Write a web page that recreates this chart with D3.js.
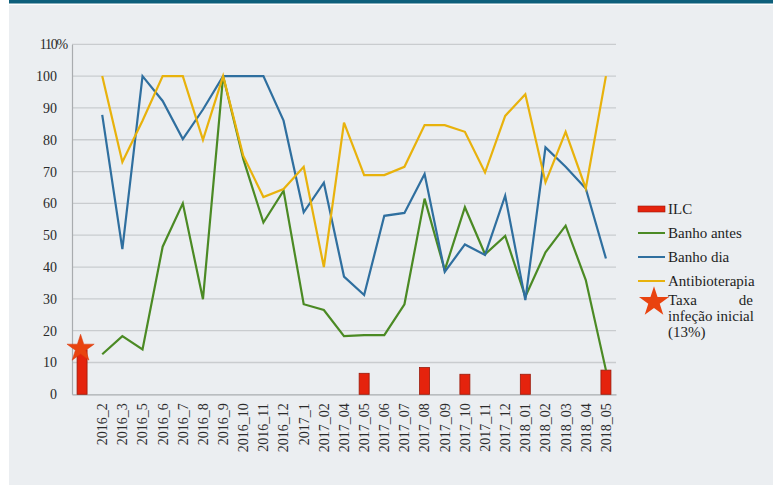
<!DOCTYPE html>
<html>
<head>
<meta charset="utf-8">
<script src="https://cdn.jsdelivr.net/npm/d3@7"></script>
<style>
  body { margin: 0; background: #fff; }
  svg { display: block; }
</style>
</head>
<body>
<svg id="chart" width="773" height="485"></svg>
<script>
// months (first slot holds the initial infection rate, no label)
var months = ["", "2016_2", "2016_3", "2016_5", "2016_6", "2016_7", "2016_8", "2016_9", "2016_10",
  "2016_11", "2016_12", "2017_1", "2017_02", "2017_04", "2017_05", "2017_06", "2017_07", "2017_08",
  "2017_09", "2017_10", "2017_11", "2017_12", "2018_01", "2018_02", "2018_03", "2018_04", "2018_05"];

var ilc = [14, 0, 0, 0, 0, 0, 0, 0, 0, 0, 0, 0, 0, 0, 6.6, 0, 0, 8.4, 0, 6.3, 0, 0, 6.3, 0, 0, 0, 7.6];
var banhoAntes = [null, 12.6, 18.3, 14.1, 46.4, 60, 29.9, 100, 74, 54, 64, 28.3, 26.5, 18.3, 18.6, 18.6,
  28.3, 61.5, 39, 58.8, 44, 49.8, 30.7, 44.6, 53, 35.9, 7.6];
var banhoDia = [null, 87.8, 45.6, 100, 92.2, 80.2, 89.5, 100, 100, 100, 86, 57.2, 66.5, 37, 31.2, 56.1,
  57, 69.2, 38.5, 47.1, 43.8, 62.4, 29.6, 77.6, 71.5, 64.7, 42.7];
var antibio = [null, 100, 73, 86, 100, 100, 80, 100, 75, 62, 64.5, 71.5, 40, 85.4, 68.9, 68.9,
  71.5, 84.6, 84.6, 82.5, 69.7, 87.5, 94.3, 66.6, 82.5, 64.7, 100];
var initialRate = 15;
var yTicks = [0, 10, 20, 30, 40, 50, 60, 70, 80, 90, 100, 110];

var series = [
  { name: "Banho antes", values: banhoAntes, color: "#4b8a24" },
  { name: "Banho dia", values: banhoDia, color: "#2f6f9f" },
  { name: "Antibioterapia", values: antibio, color: "#e8b20c" }
];

var serif = "'Liberation Serif'";
var svg = d3.select("#chart");

// background panels
svg.append("rect").attr("x", 0).attr("y", 0).attr("width", 773).attr("height", 485).attr("fill", "#ffffff");
svg.append("rect").attr("x", 9).attr("y", 5).attr("width", 764).attr("height", 480).attr("fill", "#ebeef1");
svg.append("rect").attr("x", 9).attr("y", 0).attr("width", 764).attr("height", 3.5).attr("fill", "#0d5f7b");

var x = d3.scaleBand().domain(d3.range(months.length)).range([72, 616]).padding(0);
var y = d3.scaleLinear().domain([0, 110]).range([394.3, 44.3]);
var cx = function (i) { return x(i) + x.bandwidth() / 2; };

// grid lines
svg.append("g").selectAll("line").data(yTicks.slice(1)).enter().append("line")
  .attr("x1", 72).attr("x2", 616)
  .attr("y1", d => y(d)).attr("y2", d => y(d))
  .attr("stroke", "#c9cccf").attr("stroke-width", 1.3);

// y axis
var yAxis = svg.append("g").attr("transform", "translate(72,0)")
  .call(d3.axisLeft(y).tickValues(yTicks).tickSize(0).tickPadding(15)
    .tickFormat(d => d === 110 ? "110%" : d));
yAxis.select(".domain").attr("stroke", "#a9acaf").attr("stroke-width", 1.2);
yAxis.selectAll("text").style("font-family", serif).style("font-size", "14px").attr("fill", "#2a2a2a");
yAxis.selectAll("text").filter(d => d === 110)
  .attr("transform", "translate(10,0)").style("letter-spacing", "-1.2px");

// x axis
var xAxis = svg.append("g").attr("transform", "translate(0,394.3)")
  .call(d3.axisBottom(x).tickSize(0).tickFormat(i => months[i]));
xAxis.select(".domain").attr("stroke", "#a9acaf").attr("stroke-width", 1.2);
xAxis.selectAll("text")
  .style("font-family", serif).style("font-size", "14px").attr("fill", "#2a2a2a")
  .attr("transform", "rotate(-90)")
  .attr("text-anchor", "end").attr("x", -9).attr("y", 0).attr("dy", "0.35em");

// ILC bars
svg.append("g").selectAll("rect").data(ilc.map((v, i) => ({ v: v, i: i })).filter(d => d.v > 0))
  .enter().append("rect")
  .attr("x", d => cx(d.i) - 5).attr("width", 10)
  .attr("y", d => y(d.v)).attr("height", d => y(0) - y(d.v))
  .attr("fill", "#e5230d").attr("stroke", "#9a1a0a").attr("stroke-width", 0.8);

// lines
var line = d3.line().defined(d => d.v != null).x(d => cx(d.i)).y(d => y(d.v));
series.forEach(function (s) {
  svg.append("path")
    .datum(s.values.map((v, i) => ({ v: v, i: i })))
    .attr("fill", "none").attr("stroke", s.color).attr("stroke-width", 2.2)
    .attr("stroke-linejoin", "miter").attr("d", line);
});

// star for initial infection rate
var star = d3.symbol().type(d3.symbolStar).size(230);
svg.append("path").attr("d", star())
  .attr("transform", "translate(" + (cx(0) - 1.5) + "," + (y(initialRate) + 2) + ")")
  .attr("fill", "#e9430f").attr("stroke", "#d9380c").attr("stroke-width", 0.5);

// legend
var lg = svg.append("g").attr("fill", "#1e1e1e");
var lx = 638, tx = 668;
function ltext(xx, yy, t) {
  return lg.append("text").attr("x", xx).attr("y", yy)
    .style("font-family", serif).style("font-size", "15px").text(t);
}
lg.append("rect").attr("x", lx).attr("y", 206).attr("width", 27).attr("height", 6)
  .attr("fill", "#e5230d").attr("stroke", "#9a1a0a").attr("stroke-width", 0.6);
ltext(tx, 213.5, "ILC");
series.forEach(function (s, k) {
  var ly = 233 + k * 24;
  lg.append("line").attr("x1", lx).attr("x2", lx + 27).attr("y1", ly).attr("y2", ly)
    .attr("stroke", s.color).attr("stroke-width", 2);
  ltext(tx, ly + 4.5, s.name);
});
lg.append("path").attr("d", d3.symbol().type(d3.symbolStar).size(280)())
  .attr("transform", "translate(654,302)").attr("fill", "#e9430f");
ltext(tx, 305, "Taxa");
ltext(753, 305, "de").attr("text-anchor", "end");
ltext(tx, 321, "infeção inicial").attr("textLength", 86);
ltext(tx, 337, "(13%)");
</script>
</body>
</html>
